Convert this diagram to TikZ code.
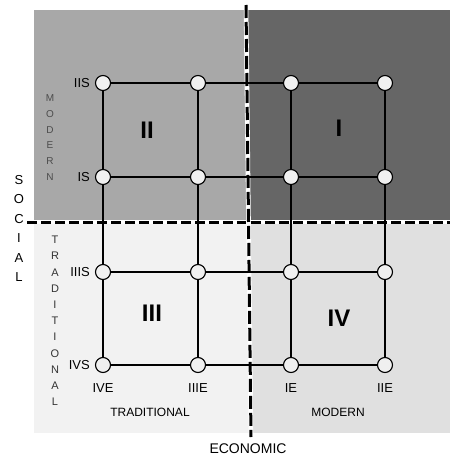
\documentclass[tikz,border=0pt]{standalone}
\usepackage{fontspec}
\setmainfont{Liberation Sans}
\begin{document}
\begin{tikzpicture}[x=1pt,y=-1pt,
  pt/.style={circle,draw=black,line width=1.1pt,fill=white!94!black,minimum size=15pt,inner sep=0pt},
  gridline/.style={line width=1.3pt,black},
  lbl/.style={font=\fontsize{13}{13}\selectfont,inner sep=0pt},
  roman/.style={font=\fontsize{24}{24}\selectfont\bfseries,inner sep=0pt},
  axis/.style={font=\fontsize{12}{12}\selectfont,inner sep=0pt},
  vlet/.style={inner sep=0pt},
  divider/.style={line width=3pt,black,dash pattern=on 10pt off 4pt},
  dividerbg/.style={line width=4.6pt,white}]
\useasboundingbox (0,0) rectangle (450,458);
\fill[white] (0,0) rectangle (450,458);
% quadrants
\fill[black!34] (34,10) rectangle (247,222);
\fill[black!60] (247,10) rectangle (450,222);
\fill[black!5] (34,222) rectangle (249,433);
\fill[black!12] (249,222) rectangle (450,433);
% dividers
\draw[dividerbg] (27,222) -- (450,222);
\draw[divider] (27,222) -- (450,222);
\draw[dividerbg] (246,5) -- (251,437);
\draw[divider,dash pattern=on 13pt off 4pt] (246,5) -- (251,437);
% grid nodes
\foreach \c/\x in {1/103,2/198,3/291,4/385}{
  \foreach \r/\y in {1/83,2/177,3/272,4/365}{
    \node[pt] (n\r\c) at (\x,\y) {};
  }
}
% grid lines
\foreach \r in {1,2,3,4}{
  \draw[gridline] (n\r1) -- (n\r2) -- (n\r3) -- (n\r4);
}
\foreach \c in {1,2,3,4}{
  \draw[gridline] (n1\c) -- (n2\c) -- (n3\c) -- (n4\c);
}
% roman numerals
\node[roman] (qII) at (147,130) {II};
\node[roman] (qI) at (339,128) {I};
\node[roman] (qIII) at (152,313) {III};
\node[roman] (qIV) at (339,318) {IV};
% side labels
\node[lbl,anchor=east] (lIIS) at (90,83) {IIS};
\node[lbl,anchor=east] (lIS) at (90,177) {IS};
\node[lbl,anchor=east] (lIIIS) at (90,272) {IIIS};
\node[lbl,anchor=east] (lIVS) at (90,365) {IVS};
\node[lbl] (lIVE) at (103,388) {IVE};
\node[lbl] (lIIIE) at (198,388) {IIIE};
\node[lbl] (lIE) at (291,388) {IE};
\node[lbl] (lIIE) at (385,388) {IIE};
% axis labels
\node[axis] (tradE) at (150,412) {TRADITIONAL};
\node[axis] (modE) at (338,412) {MODERN};
\node[font=\fontsize{14}{14}\selectfont,inner sep=0pt] (econ) at (248,449) {ECONOMIC};
% SOCIAL vertical
\foreach \l [count=\i] in {S,O,C,I,A,L}{
  \node[vlet,font=\fontsize{13}{13}\selectfont] (soc\i) at (19,{180+19.4*(\i-1)}) {\l};
}
% MODERN vertical
\foreach \l [count=\i] in {M,O,D,E,R,N}{
  \node[vlet,font=\fontsize{10}{10}\selectfont,text=black!70] (modS\i) at (50,{98+15.8*(\i-1)}) {\l};
}
% TRADITIONAL vertical
\foreach \l [count=\i] in {T,R,A,D,I,T,I,O,N,A,L}{
  \node[vlet,font=\fontsize{11}{11}\selectfont,text=black!80] (tradS\i) at (55,{240+16.2*(\i-1)}) {\l};
}
\end{tikzpicture}
\end{document}
